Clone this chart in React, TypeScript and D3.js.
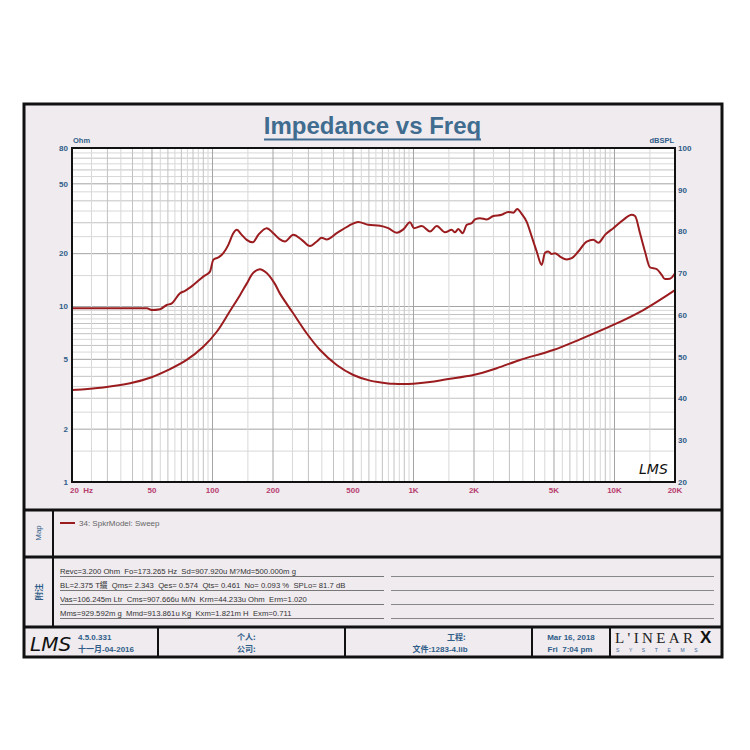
import * as d3 from "d3";

// frequency axis ticks
const freqTicks = [20, 50, 100, 200, 500, 1000, 2000, 5000, 10000, 20000];
const freqLabels = ["20  Hz", "50", "100", "200", "500", "1K", "2K", "5K", "10K", "20K"];
const ohmTicks = [1, 2, 5, 10, 20, 50, 80];
const splTicks = [20, 30, 40, 50, 60, 70, 80, 90, 100];

// impedance curve (left axis, Ohm)
const impFreq = [20, 28.6, 38.9, 49.8, 60.3, 74.4, 90, 105, 122, 137, 148, 160, 172, 186, 204, 217, 252, 294, 343, 415, 502, 608, 681, 794, 998, 1208, 1463, 1984, 2594, 3388, 4960, 6738, 9864, 13910, 20000];
const impOhm = [3.34, 3.46, 3.65, 3.95, 4.35, 4.96, 5.9, 7.18, 9.4, 11.6, 13.5, 15.6, 16.3, 15.5, 13.5, 11.8, 9.15, 7.04, 5.65, 4.64, 4.07, 3.78, 3.7, 3.63, 3.63, 3.71, 3.85, 4.07, 4.45, 4.96, 5.65, 6.5, 7.85, 9.55, 12.4];

// SPL curve (right axis, dBSPL)
const splFreq = [20, 27.6, 38.9, 47.2, 49.8, 54.8, 59.2, 62.7, 68.9, 73, 80.3, 90, 97.2, 100.9, 106.9, 113.2, 119.9, 126.9, 132, 139.8, 148, 158.5, 169, 186.1, 200.7, 216.6, 229.4, 252.4, 277.9, 305.6, 330, 349.4, 370, 415, 474, 531, 596, 681, 749, 825, 890, 961, 1006, 1099, 1208, 1305, 1435, 1549, 1609, 1671, 1757, 1839, 1948, 2023, 2142, 2314, 2496, 2747, 2962, 3136, 3284, 3454, 3658, 3874, 4102, 4344, 4510, 4684, 4870, 5058, 5357, 5784, 6125, 6607, 7274, 7846, 8308, 8970, 9864, 11062, 12180, 12648, 13394, 14182, 15018, 16218, 17172, 17834, 18886, 20000];
const splDb = [61.6, 61.6, 61.6, 61.6, 61.2, 61.4, 62.4, 62.8, 65.2, 65.8, 67.2, 69.2, 70.4, 73.2, 73.8, 74.8, 76.8, 79.6, 80.4, 79.2, 78.0, 77.4, 79.2, 80.8, 79.6, 78.1, 77.6, 79.2, 78.0, 76.5, 77.6, 78.5, 78.1, 79.6, 81.3, 82.3, 81.6, 81.4, 80.8, 79.7, 80.5, 82.2, 80.8, 81.3, 80.0, 81.3, 79.8, 80.4, 79.8, 80.6, 79.6, 81.6, 82.0, 82.9, 83.2, 82.9, 83.7, 84.0, 84.7, 84.5, 85.4, 84.2, 82.3, 78.8, 75.2, 72.0, 74.9, 75.2, 74.6, 74.8, 74.0, 73.3, 73.6, 75.2, 77.6, 78.0, 77.3, 79.2, 80.8, 82.8, 84.0, 83.7, 79.6, 75.2, 71.4, 71.0, 69.6, 68.6, 68.7, 70.0];

const paramLines = [
  "Revc=3.200 Ohm  Fo=173.265 Hz  Sd=907.920u M?Md=500.000m g",
  "BL=2.375 T綴  Qms= 2.343  Qes= 0.574  Qts= 0.461  No= 0.093 %  SPLo= 81.7 dB",
  "Vas=106.245m Ltr  Cms=907.666u M/N  Krm=44.233u Ohm  Erm=1.020",
  "Mms=929.592m g  Mmd=913.861u Kg  Kxm=1.821m H  Exm=0.711",
];

const BLUE = "#2f5d88";
const RED = "#9b1c1f";
const FONT = "'Liberation Sans', Arial, sans-serif";
const CJK = "'Liberation Sans', 'Noto Sans CJK SC', sans-serif";

export default function App() {
  const plot = { left: 72, right: 675, top: 148, bottom: 482 };
  const x = d3.scaleLog().domain([20, 20000]).range([plot.left, plot.right]);
  const yOhm = d3.scaleLog().domain([1, 80]).range([plot.bottom, plot.top]);
  const yDb = d3.scaleLinear().domain([20, 100]).range([plot.bottom, plot.top]);

  // log grid with half steps
  const vGrid: { v: number; kind: number }[] = [];
  [10, 100, 1000, 10000].forEach((d) => {
    for (let m = 1; m < 10; m += 0.5) {
      const v = d * m;
      if (v <= 20 || v >= 20000) continue;
      const kind = m === 1 || m === 2 || m === 5 ? 0 : Number.isInteger(m) ? 1 : 2;
      vGrid.push({ v, kind });
    }
  });
  const hGrid: { v: number; kind: number }[] = [];
  [1, 10].forEach((d) => {
    for (let m = 1; m < 10; m += 0.5) {
      const v = d * m;
      if (v <= 1 || v >= 80) continue;
      const kind = m === 1 || m === 2 || m === 5 ? 0 : Number.isInteger(m) ? 1 : 2;
      hGrid.push({ v, kind });
    }
  });
  const gridColor = ["#a4a4a4", "#c2c2c2", "#d8d8d8"];

  const impLine = d3
    .line<number>()
    .x((_, i) => x(impFreq[i]))
    .y((d) => yOhm(d))
    .curve(d3.curveCatmullRom);
  const splLine = d3
    .line<number>()
    .x((_, i) => x(splFreq[i]))
    .y((d) => yDb(d))
    .curve(d3.curveMonotoneX);

  return (
    <svg
      width={750}
      height={750}
      style={{ position: "absolute", left: 0, top: 0, background: "#fff" }}
      fontFamily={FONT}
    >
      {/* outer frame */}
      <rect x={24} y={104} width={698} height={553} fill="#efebef" stroke="#111" strokeWidth={3} />

      {/* title */}
      <text x={372.5} y={134} textAnchor="middle" fontSize={24} fontWeight="bold" fill="#3f6c8f">
        Impedance vs Freq
      </text>
      <line x1={264} x2={481} y1={139.5} y2={139.5} stroke="#3f6c8f" strokeWidth={2} />

      {/* plot area */}
      <rect x={plot.left} y={plot.top} width={plot.right - plot.left} height={plot.bottom - plot.top} fill="#fff" />
      {hGrid
        .slice()
        .sort((a, b) => b.kind - a.kind)
        .map((g, i) => (
          <line key={"h" + i} x1={plot.left} x2={plot.right} y1={yOhm(g.v)} y2={yOhm(g.v)} stroke={gridColor[g.kind]} strokeWidth={1} />
        ))}
      {vGrid
        .slice()
        .sort((a, b) => b.kind - a.kind)
        .map((g, i) => (
          <line key={"v" + i} x1={x(g.v)} x2={x(g.v)} y1={plot.top} y2={plot.bottom} stroke={gridColor[g.kind]} strokeWidth={1} />
        ))}

      <path d={splLine(splDb) || ""} fill="none" stroke={RED} strokeWidth={2} />
      <path d={impLine(impOhm) || ""} fill="none" stroke={RED} strokeWidth={2} />

      <rect x={plot.left} y={plot.top} width={plot.right - plot.left} height={plot.bottom - plot.top} fill="none" stroke="#111" strokeWidth={2} />

      {/* signature */}
      <text x={639} y={474} fontSize={14} fontStyle="italic" fill="#111" fontFamily="'DejaVu Sans ExtraLight', 'DejaVu Sans', sans-serif" fontWeight={200}>
        LMS
      </text>

      {/* axis titles */}
      <text x={73} y={143} fontSize={7.5} fontWeight="bold" fill={BLUE}>Ohm</text>
      <text x={674} y={143} fontSize={7.5} fontWeight="bold" fill={BLUE} textAnchor="end">dBSPL</text>

      {ohmTicks.map((t) => (
        <text key={"o" + t} x={68} y={yOhm(t)} dy="0.35em" textAnchor="end" fontSize={8} fontWeight="bold" fill={BLUE}>
          {t}
        </text>
      ))}
      {splTicks.map((t) => (
        <text key={"s" + t} x={678} y={yDb(t)} dy="0.35em" fontSize={8} fontWeight="bold" fill={BLUE}>
          {t}
        </text>
      ))}
      {freqTicks.map((t, i) => (
        <text
          key={"f" + t}
          x={i === 0 ? 70 : x(t)}
          y={493}
          textAnchor={i === 0 ? "start" : "middle"}
          fontSize={8}
          fontWeight="bold"
          fill="#b83c6e"
          style={{ whiteSpace: "pre" }}
        >
          {freqLabels[i]}
        </text>
      ))}

      {/* section dividers */}
      <line x1={24} x2={722} y1={510} y2={510} stroke="#111" strokeWidth={3} />
      <line x1={24} x2={722} y1={557} y2={557} stroke="#111" strokeWidth={3} />
      <line x1={24} x2={722} y1={627} y2={627} stroke="#111" strokeWidth={3} />
      <line x1={53} x2={53} y1={510} y2={627} stroke="#111" strokeWidth={2} />

      <text transform="translate(41,533) rotate(-90)" textAnchor="middle" fontSize={8} fill={BLUE}>Map</text>
      <text transform="translate(42,592) rotate(-90)" textAnchor="middle" fontSize={8.5} fontWeight="bold" fill={BLUE}
        fontFamily="'Noto Sans CJK SC', sans-serif">附注</text>

      {/* legend */}
      <line x1={60} x2={75} y1={523} y2={523} stroke={RED} strokeWidth={2} />
      <text x={79} y={526} fontSize={8} fill="#666">34: SpkrModel: Sweep</text>

      {/* parameter notes */}
      {paramLines.map((t, i) => (
        <g key={"p" + i}>
          <text x={60} y={574 + i * 14} fontSize={7.7} fill="#333" fontFamily={CJK} style={{ whiteSpace: "pre" }}>
            {t}
          </text>
          <line x1={60} x2={384} y1={576.5 + i * 14} y2={576.5 + i * 14} stroke="#777" strokeWidth={1} />
          <line x1={391} x2={714} y1={576.5 + i * 14} y2={576.5 + i * 14} stroke="#888" strokeWidth={1} />
        </g>
      ))}

      {/* footer */}
      {[158, 345, 532, 610].map((fx) => (
        <line key={"c" + fx} x1={fx} x2={fx} y1={627} y2={657} stroke="#111" strokeWidth={2} />
      ))}
      <text x={30} y={651} fontSize={20} fontStyle="italic" fill="#111" fontFamily="'DejaVu Sans ExtraLight', 'DejaVu Sans', sans-serif" fontWeight={200}>LMS</text>
      <text x={78} y={640} fontSize={8} fontWeight="bold" fill={BLUE}>4.5.0.331</text>
      <text x={78} y={652} fontSize={8} fontWeight="bold" fill={BLUE} fontFamily={CJK}>十一月-04-2016</text>
      <text x={237} y={640} fontSize={8} fontWeight="bold" fill={BLUE} fontFamily="'Noto Sans CJK SC', sans-serif">个人:</text>
      <text x={237} y={652} fontSize={8} fontWeight="bold" fill={BLUE} fontFamily="'Noto Sans CJK SC', sans-serif">公司:</text>
      <text x={447} y={640} fontSize={8} fontWeight="bold" fill={BLUE} fontFamily="'Noto Sans CJK SC', sans-serif">工程:</text>
      <text x={440} y={652} textAnchor="middle" fontSize={8} fontWeight="bold" fill={BLUE} fontFamily={CJK}>文件:1283-4.lib</text>
      <text x={571} y={640} textAnchor="middle" fontSize={8} fontWeight="bold" fill={BLUE}>Mar 16, 2018</text>
      <text x={570} y={652} textAnchor="middle" fontSize={8} fontWeight="bold" fill={BLUE} style={{ whiteSpace: "pre" }}>Fri  7:04 pm</text>

      <text x={615} y={643} fontSize={15} fill="#222" fontFamily="'Liberation Serif', serif" letterSpacing={3.4}>L'INEAR</text>
      <text x={700} y={643} fontSize={17} fontWeight="bold" fill="#111" fontFamily="'Liberation Sans', sans-serif">X</text>
      <text x={616} y={652} fontSize={5} fill="#3a6a9a" letterSpacing={9.6}>SYSTEMS</text>
    </svg>
  );
}
